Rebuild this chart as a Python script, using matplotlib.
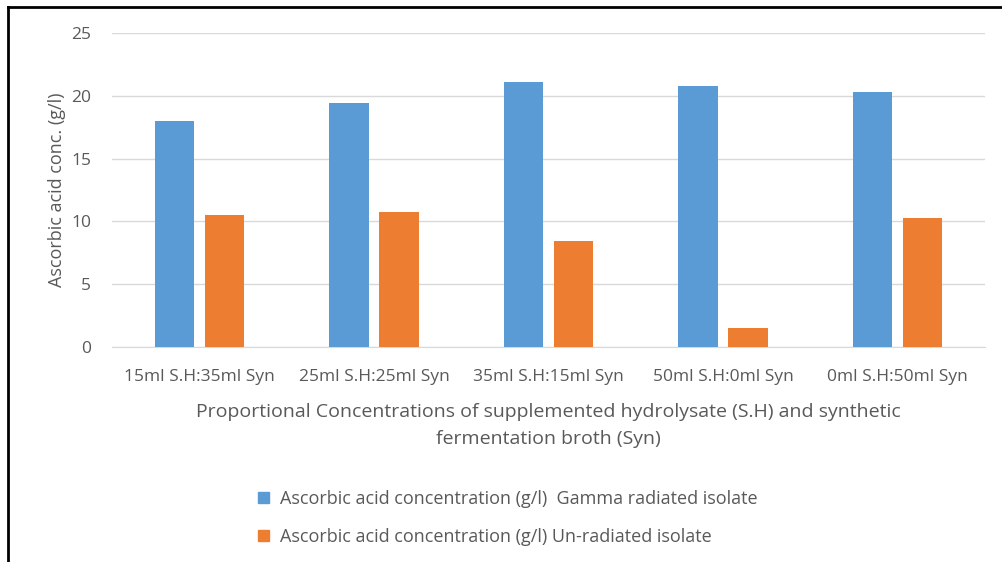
import numpy as np
import matplotlib
matplotlib.use("Agg")
import matplotlib.pyplot as plt
from matplotlib.lines import Line2D

# Data
categories = ["15ml S.H:35ml Syn", "25ml S.H:25ml Syn", "35ml S.H:15ml Syn",
              "50ml S.H:0ml Syn", "0ml S.H:50ml Syn"]
gamma = [18.0, 19.4, 21.1, 20.8, 20.3]
unradiated = [10.5, 10.75, 8.45, 1.5, 10.25]
series_names = ["Ascorbic acid concentration (g/l)  Gamma radiated isolate",
                "Ascorbic acid concentration (g/l) Un-radiated isolate"]

blue = "#5B9BD5"
orange = "#ED7D31"
grey = "#595959"

plt.rcParams["font.family"] = ["Open Sans", "DejaVu Sans"]

fig = plt.figure(figsize=(10.03, 5.62), dpi=100, facecolor="white")
ax = fig.add_axes([0.1117, 0.3826, 0.8703, 0.5587])

x = np.arange(len(categories))
w = 0.225
off = 0.143
ax.bar(x - off, gamma, w, color=blue, label=series_names[0], zorder=3)
ax.bar(x + off, unradiated, w, color=orange, label=series_names[1], zorder=3)

ax.set_xlim(-0.5, len(categories) - 0.5)
ax.set_ylim(0, 25)
ax.set_yticks(range(0, 26, 5))
ax.yaxis.grid(True, color="#D9D9D9", linewidth=1, zorder=0)
for s in ["top", "right", "left"]:
    ax.spines[s].set_visible(False)
ax.spines["bottom"].set_color("#D9D9D9")
ax.tick_params(length=0, colors=grey, labelsize=12.5)
ax.tick_params(axis="x", pad=16)
ax.tick_params(axis="y", pad=15)
ax.set_xticks(x)
ax.set_xticklabels(categories)

ax.set_ylabel("Ascorbic acid conc. (g/l)", color=grey, fontsize=13, labelpad=4)
ax.set_xlabel("Proportional Concentrations of supplemented hydrolysate (S.H) and synthetic\nfermentation broth (Syn)",
              color=grey, fontsize=14, labelpad=13, linespacing=1.65)

handles = [plt.Rectangle((0, 0), 1, 1, color=blue), plt.Rectangle((0, 0), 1, 1, color=orange)]
leg = fig.legend(handles, series_names, loc="upper left", bbox_to_anchor=(0.241, 0.157),
                 frameon=False, fontsize=13, handlelength=0.6, handleheight=0.6,
                 handletextpad=0.6, labelspacing=1.1)
for t in leg.get_texts():
    t.set_color(grey)

# outer black frame (left and top)
fig.add_artist(Line2D([0.0075, 0.0075], [0, 0.988], color="black", linewidth=2))
fig.add_artist(Line2D([0.0075, 0.998], [0.988, 0.988], color="black", linewidth=2))

plt.savefig("out.png", dpi=100, facecolor="white")
